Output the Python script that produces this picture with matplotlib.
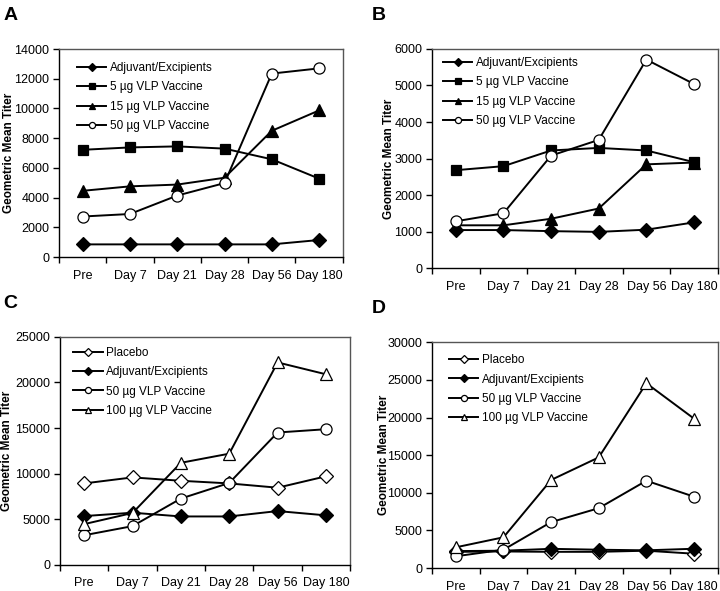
import matplotlib
matplotlib.use("Agg")
import matplotlib.pyplot as plt
from matplotlib.ticker import FixedLocator, NullFormatter, FixedFormatter

plt.rcParams['font.family'] = ['Liberation Sans', 'DejaVu Sans']

timepoints = ["Pre", "Day 7", "Day 21", "Day 28", "Day 56", "Day 180"]

# Panel A
a_adjuvant = [855, 855, 855, 855, 855, 1150]
a_vlp5 = [7220, 7380, 7450, 7300, 6580, 5280]
a_vlp15 = [4460, 4760, 4880, 5340, 8500, 9870]
a_vlp50 = [2730, 2900, 4140, 4980, 12350, 12700]

# Panel B
b_adjuvant = [1040, 1040, 1010, 990, 1050, 1250]
b_vlp5 = [2680, 2790, 3220, 3290, 3220, 2900]
b_vlp15 = [1170, 1170, 1350, 1630, 2840, 2890]
b_vlp50 = [1280, 1500, 3080, 3510, 5710, 5040]

# Panel C
c_placebo = [8940, 9600, 9230, 8940, 8470, 9720]
c_adjuvant = [5360, 5730, 5320, 5320, 5910, 5440]
c_vlp50 = [3260, 4260, 7280, 8990, 14520, 14880]
c_vlp100 = [4480, 5700, 11200, 12200, 22200, 20900]

# Panel D
d_placebo = [2150, 2200, 2150, 2150, 2300, 1900]
d_adjuvant = [2250, 2300, 2550, 2430, 2350, 2560]
d_vlp50 = [1560, 2430, 6100, 7950, 11600, 9480]
d_vlp100 = [2750, 4080, 11700, 14700, 24550, 19850]

panels = [
    ("A", [0.082, 0.565, 0.394, 0.352], 14000, 2000, [
        ("Adjuvant/Excipients", a_adjuvant, "D", "k"),
        ("5 \u00b5g VLP Vaccine", a_vlp5, "s", "k"),
        ("15 \u00b5g VLP Vaccine", a_vlp15, "^", "k"),
        ("50 \u00b5g VLP Vaccine", a_vlp50, "o", "w"),
    ]),
    ("B", [0.600, 0.5465, 0.397, 0.3706], 6000, 1000, [
        ("Adjuvant/Excipients", b_adjuvant, "D", "k"),
        ("5 \u00b5g VLP Vaccine", b_vlp5, "s", "k"),
        ("15 \u00b5g VLP Vaccine", b_vlp15, "^", "k"),
        ("50 \u00b5g VLP Vaccine", b_vlp50, "o", "w"),
    ]),
    ("C", [0.0833, 0.044, 0.403, 0.386], 25000, 5000, [
        ("Placebo", c_placebo, "D", "w"),
        ("Adjuvant/Excipients", c_adjuvant, "D", "k"),
        ("50 \u00b5g VLP Vaccine", c_vlp50, "o", "w"),
        ("100 \u00b5g VLP Vaccine", c_vlp100, "^", "w"),
    ]),
    ("D", [0.600, 0.0389, 0.397, 0.382], 30000, 5000, [
        ("Placebo", d_placebo, "D", "w"),
        ("Adjuvant/Excipients", d_adjuvant, "D", "k"),
        ("50 \u00b5g VLP Vaccine", d_vlp50, "o", "w"),
        ("100 \u00b5g VLP Vaccine", d_vlp100, "^", "w"),
    ]),
]

msize = {"D": 7.0, "s": 7.5, "^": 8.0, "o": 8.0}

fig = plt.figure(figsize=(7.2, 5.91), dpi=100)
letter_pos = {"A": (0.005, 0.988), "B": (0.516, 0.988), "C": (0.005, 0.501), "D": (0.516, 0.493)}
ylabel_x = {"A": -0.155, "B": -0.129, "C": -0.162, "D": -0.147}
legend_anchor = {"A": (0.063, 0.9375), "B": (0.038, 0.963), "C": (0.045, 0.956), "D": (0.059, 0.947)}

for letter, rect, ymax, ystep, series in panels:
    ax = fig.add_axes(rect)
    x = list(range(len(timepoints)))
    for label, vals, mk, fc in series:
        ax.plot(x, vals, color="k", lw=1.4, marker=mk, markersize=msize[mk],
                markerfacecolor=fc, markeredgecolor="k", markeredgewidth=0.9,
                label=label)
    ax.set_xlim(-0.5, len(timepoints) - 0.5)
    ax.set_ylim(0, ymax)
    ax.set_yticks(list(range(0, ymax + 1, ystep)))
    ax.xaxis.set_major_locator(FixedLocator([i - 0.5 for i in range(len(timepoints) + 1)]))
    ax.xaxis.set_major_formatter(NullFormatter())
    ax.xaxis.set_minor_locator(FixedLocator(x))
    ax.xaxis.set_minor_formatter(FixedFormatter(timepoints))
    ax.tick_params(axis="x", which="major", direction="out", length=4, width=1)
    ax.tick_params(axis="x", which="minor", length=0, pad=9, labelsize=9)
    ax.tick_params(axis="y", direction="out", length=4, width=1, labelsize=9, pad=3)
    ax.spines["left"].set_linewidth(1.0)
    ax.spines["bottom"].set_linewidth(1.0)
    for s in ("top", "right"):
        ax.spines[s].set_color("#555555")
        ax.spines[s].set_linewidth(1.0)
    ax.set_ylabel("Geometric Mean Titer", fontsize=8.5, fontweight="bold")
    ax.yaxis.set_label_coords(ylabel_x[letter], 0.5)
    ax.legend(loc="upper left", bbox_to_anchor=legend_anchor[letter], frameon=False,
              fontsize=8.5, handlelength=2.5, handletextpad=0.3,
              labelspacing=0.62, markerscale=0.55, borderaxespad=0, borderpad=0)
    lx, ly = letter_pos[letter]
    fig.text(lx, ly, letter, fontsize=14, fontweight="bold", va="top", ha="left")

fig.savefig("out.png", dpi=100)
